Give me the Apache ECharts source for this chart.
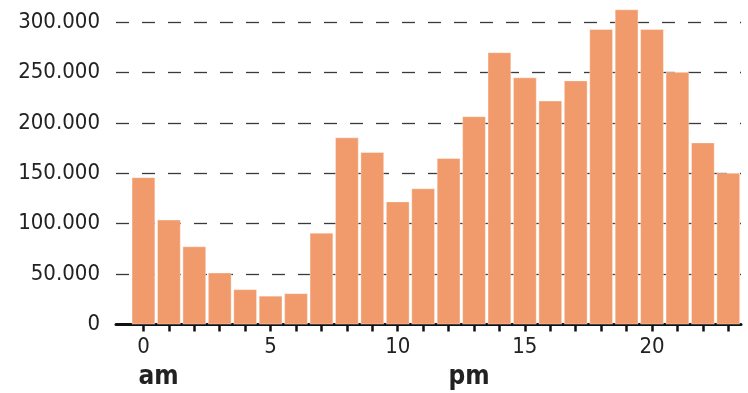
<!DOCTYPE html>
<html>
<head>
<meta charset="utf-8">
<script src="https://cdn.jsdelivr.net/npm/echarts@6/dist/echarts.min.js"></script>
<style>
html,body{margin:0;padding:0;background:#fff;}
#c{width:748px;height:393px;}
</style>
</head>
<body>
<div id="c"></div>
<script>
var hours = [0,1,2,3,4,5,6,7,8,9,10,11,12,13,14,15,16,17,18,19,20,21,22,23];
var values = [146000,104000,77500,51500,35000,28500,31000,91000,185500,171000,122000,135000,165000,206500,270000,245000,222000,242000,293000,312500,293000,250500,180500,150500];
var xTickLabels = [0,5,10,15,20];
var periodLabels = ['am','pm'];
var periodStarts = [-0.2,12];

var FONT = "'DejaVu Sans Condensed','Liberation Sans Narrow',sans-serif";
function fmt(v){ return String(v).replace(/\B(?=(\d{3})+(?!\d))/g,'.'); }

var chart = echarts.init(document.getElementById('c'), null, {renderer:'canvas'});
chart.setOption({
  animation:false,
  backgroundColor:'#fff',
  grid:{left:116, right:7, top:22, bottom:68.5, containLabel:false},
  xAxis:[{
    type:'value', min:-1.08, max:23.5,
    axisLine:{show:true, onZero:false, lineStyle:{color:'#111', width:3}},
    axisTick:{show:true, length:7, lineStyle:{color:'#111', width:2.5}, customValues:hours},
    axisLabel:{customValues:xTickLabels, margin:12, fontFamily:FONT, fontSize:22, color:'#222',
      formatter:function(v){return String(v);}},
    splitLine:{show:false}
  },{
    type:'value', min:-1.08, max:23.5, position:'bottom',
    axisLine:{show:false}, axisTick:{show:false}, splitLine:{show:false},
    axisLabel:{customValues:periodStarts, margin:40, align:'left', fontFamily:FONT, fontSize:26, fontWeight:'bold', color:'#222',
      formatter:function(v){ var i = periodStarts.indexOf(v); return i>=0 ? periodLabels[i] : ''; }}
  }],
  yAxis:{
    type:'value', min:0, max:300000, interval:50000,
    axisLine:{show:false}, axisTick:{show:false},
    axisLabel:{margin:16, fontFamily:FONT, fontSize:22, color:'#222', formatter:function(v){return fmt(v);}},
    splitLine:{show:true, lineStyle:{color:'#3a3a3a', width:1.3, type:[13,13]}}
  },
  series:[{
    type:'bar', xAxisIndex:0, clip:false,
    barWidth:23.6,
    itemStyle:{color:'#F19B6C', borderColor:'rgba(255,255,255,0.45)', borderWidth:0.8},
    data: hours.map(function(h,i){return [h, values[i]];})
  }]
});
</script>
</body>
</html>
